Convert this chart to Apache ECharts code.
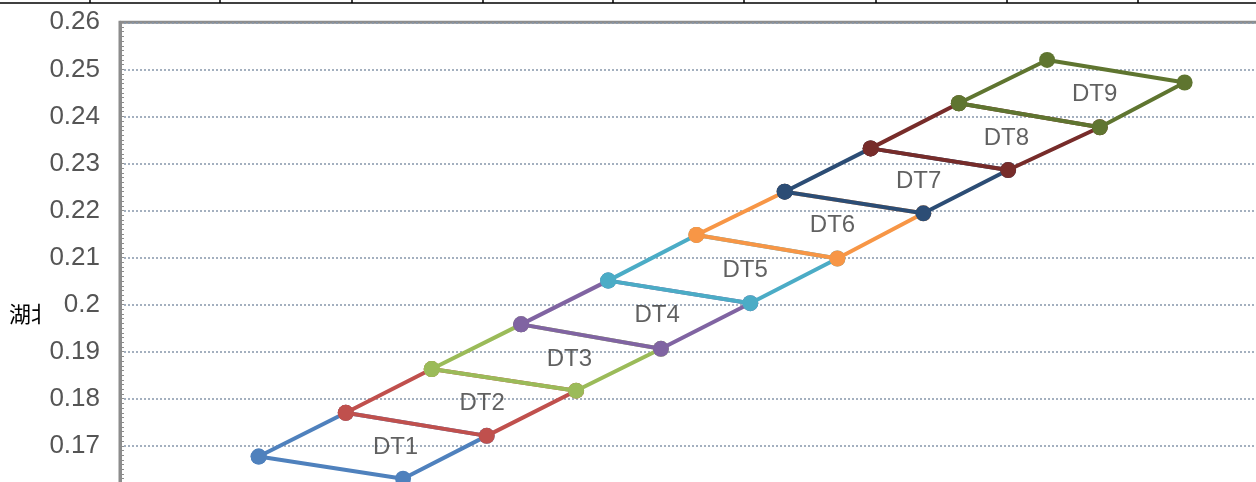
<!DOCTYPE html>
<html>
<head>
<meta charset="utf-8">
<script src="https://cdn.jsdelivr.net/npm/echarts@6/dist/echarts.min.js"></script>
<style>
  html, body { margin: 0; padding: 0; background: #fff; overflow: hidden; }
  #myChart { width: 1276px; height: 520px; }
</style>
</head>
<body>
<div id="myChart"></div>
<script>
// chain of shared corners: upper/left corners and lower/right corners
var upperX = [1.21, 1.97, 2.72, 3.50, 4.26, 5.03, 5.80, 6.55, 7.32, 8.09];
var upperY = [0.1677, 0.1770, 0.1863, 0.1958, 0.2051, 0.2148, 0.2240, 0.2332, 0.2428, 0.2520];
var lowerX = [2.47, 3.20, 3.98, 4.72, 5.50, 6.26, 7.01, 7.75, 8.55, 9.29];
var lowerY = [0.1630, 0.1721, 0.1817, 0.1906, 0.2003, 0.2098, 0.2194, 0.2286, 0.2377, 0.2472];
var names = ['DT1', 'DT2', 'DT3', 'DT4', 'DT5', 'DT6', 'DT7', 'DT8', 'DT9'];
var colors = ['#4F81BD', '#C0504D', '#9BBB59', '#8064A2', '#4BACC6', '#F79646', '#2C4D75', '#772C2A', '#5F7530'];
var yMin = 0.16, yMax = 0.26, yStep = 0.01;

var series = [];
var labelData = [];
names.forEach(function (name, i) {
  var pts = [
    [upperX[i], upperY[i]],
    [lowerX[i], lowerY[i]],
    [lowerX[i + 1], lowerY[i + 1]],
    [upperX[i + 1], upperY[i + 1]],
    [upperX[i], upperY[i]]
  ];
  series.push({
    name: name,
    type: 'line',
    data: pts,
    z: 2 + i,
    symbol: 'circle',
    symbolSize: 16,
    showAllSymbol: true,
    color: colors[i],
    lineStyle: { width: 4, color: colors[i] },
    itemStyle: { color: colors[i] }
  });
  var cx = 0, cy = 0;
  for (var k = 0; k < 4; k++) { cx += pts[k][0]; cy += pts[k][1]; }
  labelData.push({ name: name, value: [cx / 4, cy / 4] });
});

series.push({
  type: 'scatter',
  data: labelData,
  symbolSize: 0,
  z: 30,
  label: {
    show: true,
    position: 'inside',
    offset: [22, 1],
    formatter: function (p) { return p.name; },
    color: '#3a3a3a',
    fontSize: 24,
    fontFamily: 'Liberation Sans'
  }
});

var topTicks = [90, 220, 352, 483, 613, 744, 876, 1007, 1138];
var graphics = [
  { type: 'text', left: 9, top: 303, z: 0, style: { text: '湖北', fontSize: 22, fontFamily: 'Noto Sans CJK SC', fill: '#000' } },
  { type: 'rect', shape: { x: 42, y: 296, width: 16, height: 40 }, z: 1, style: { fill: '#fff' } },
  { type: 'line', shape: { x1: 0, y1: 3, x2: 1276, y2: 3 }, style: { stroke: '#000', lineWidth: 1.5 } }
];
topTicks.forEach(function (x) {
  graphics.push({ type: 'line', shape: { x1: x, y1: 0, x2: x, y2: 3 }, style: { stroke: '#000', lineWidth: 1.5 } });
});

var myChart = echarts.init(document.getElementById('myChart'));
myChart.setOption({
  animation: false,
  backgroundColor: '#fff',
  graphic: graphics,
  grid: {
    left: 120, top: 22.3, right: 10, bottom: 27.2,
    show: true, borderColor: '#8c8c8c', borderWidth: 3
  },
  xAxis: {
    type: 'value', min: 0, max: 10, show: false
  },
  yAxis: {
    type: 'value', min: yMin, max: yMax, interval: yStep,
    axisLine: { show: true, lineStyle: { color: '#8c8c8c', width: 3 } },
    axisTick: { show: true, inside: true, length: 4, lineStyle: { color: '#8c8c8c' } },
    minorTick: { show: true, splitNumber: 10, length: 4, lineStyle: { color: '#8c8c8c' } },
    axisLabel: {
      margin: 20, color: '#555', fontSize: 26, fontFamily: 'Liberation Sans',
      formatter: function (v) { return String(Math.round(v * 100) / 100); }
    },
    splitLine: { show: true, lineStyle: { color: '#8797ab', width: 1.5, type: [2, 2] } }
  },
  series: series
});
</script>
</body>
</html>
